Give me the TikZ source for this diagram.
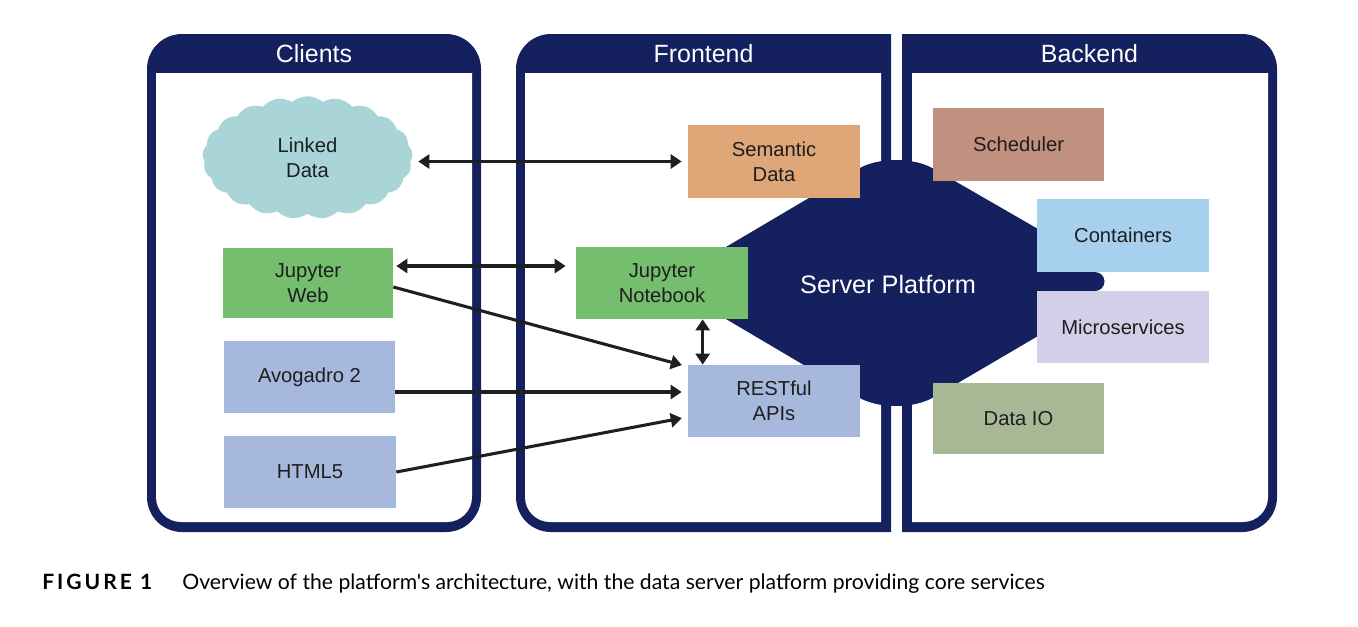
\documentclass[tikz,border=0pt]{standalone}
\usepackage{fontspec}
\setmainfont{Liberation Sans}
\newfontfamily\capfont{Lato}
\usetikzlibrary{arrows.meta,shapes.symbols,calc}
\definecolor{navy}{HTML}{15205E}
\definecolor{cSem}{HTML}{DFA677}
\definecolor{cSch}{HTML}{C1907E}
\definecolor{cCon}{HTML}{A7D0EE}
\definecolor{cMic}{HTML}{D2D0E8}
\definecolor{cDio}{HTML}{A8B894}
\definecolor{cJup}{HTML}{74BE6E}
\definecolor{cApi}{HTML}{A7B8DD}
\definecolor{cCld}{HTML}{A9D4D8}
\definecolor{txt}{HTML}{1E1E1E}
\begin{document}
\begin{tikzpicture}[x=0.02cm,y=-0.02cm,
  box/.style={draw=none,minimum width=3.44cm,minimum height=1.44cm,inner sep=0pt,
    font=\fontsize{11.5}{14.2}\selectfont,text=txt,align=center},
  hdr/.style={text=white,font=\fontsize{14.2}{16}\selectfont},
  arr/.style={line width=1.75pt,black!88,-{Triangle[length=0.22cm,width=0.28cm]}},
  darr/.style={line width=1.75pt,black!88,{Triangle[length=0.22cm,width=0.28cm]}-{Triangle[length=0.22cm,width=0.28cm]}}]
\useasboundingbox (0,0) rectangle (1358,626);
% panels
\fill[navy,rounded corners=0.7cm] (147,34) rectangle (481,532);
\fill[white,rounded corners=0.5cm] (156,73) [sharp corners]-- (472,73) [rounded corners=0.5cm]-- (472,522) -- (156,522) [sharp corners]-- cycle;
\fill[navy] (891,34) [rounded corners=0.7cm]-- (516,34) -- (516,532) [sharp corners]-- (891,532) -- cycle;
\fill[white] (881,73) -- (525,73) [rounded corners=0.5cm]-- (525,522) [sharp corners]-- (881,522) -- cycle;
\fill[navy] (902,34) [rounded corners=0.7cm]-- (1277,34) -- (1277,532) [sharp corners]-- (902,532) -- cycle;
\fill[white] (912,73) -- (1268,73) [rounded corners=0.5cm]-- (1268,522) [sharp corners]-- (912,522) -- cycle;
\node[hdr] (hc) at (314,54) {Clients};
\node[hdr] (hf) at (703.5,54) {Frontend};
\node[hdr] (hb) at (1089.5,54) {Backend};
% server platform
\fill[navy] (665,283) -- (858,169) .. controls (878,157) and (914,157) .. (934,169)
  -- (1038,229) -- (1038,272) -- (1095,272) arc[start angle=90,end angle=-90,radius=0.19cm]
  -- (1038,291) -- (1038,336) -- (934,397) .. controls (914,409) and (878,409) .. (858,397) -- cycle;
\node[text=white,font=\fontsize{14.4}{16}\selectfont] (sp) at (888,284) {Server Platform};
% boxes
\node[box,fill=cSem,minimum height=1.46cm] (sd) at (774,161.5) {Semantic\\Data};
\node[box,fill=cJup] (jn) at (662,283) {Jupyter\\Notebook};
\node[box,fill=cApi] (ra) at (774,401) {RESTful\\APIs};
\node[box,fill=cSch,minimum width=3.42cm,minimum height=1.46cm] (sch) at (1018.5,144.5) {Scheduler};
\node[box,fill=cCon,minimum height=1.46cm] (con) at (1123,235.5) {Containers};
\node[box,fill=cMic] (mic) at (1123,327) {Microservices};
\node[box,fill=cDio,minimum width=3.42cm,minimum height=1.42cm] (dio) at (1018.5,418.5) {Data IO};
\node[box,fill=cJup,minimum width=3.4cm,minimum height=1.4cm] (jw) at (308,283) {Jupyter\\Web};
\node[box,fill=cApi,minimum width=3.42cm] (av) at (309.5,377) {Avogadro 2};
\node[box,fill=cApi] (ht) at (310,472) {HTML5};
\node[cloud,cloud puffs=21,cloud puff arc=80,aspect=1.75,fill=cCld,draw=none,
  minimum width=4.2cm,minimum height=2.45cm,inner sep=0pt,
  font=\fontsize{11.5}{14.2}\selectfont,text=txt,align=center] (ld) at (307.5,157.5) {Linked\\Data};
% connectors
\draw[darr,shorten <=0.12cm,shorten >=0.12cm] (ld.east |- sd.west) -- (sd.west);
\draw[darr,shorten <=0.06cm,shorten >=0.2cm] ([yshift=0.34cm]jw.east) -- ([yshift=0.34cm]jn.west);
\draw[arr,shorten >=0.12cm] ([yshift=-0.08cm]jw.east) -- ([yshift=-0.04cm]ra.north west);
\draw[arr,shorten >=0.12cm] ([yshift=-0.3cm]av.east) -- ([yshift=-0.3cm]av.east -| ra.west);
\draw[arr,shorten >=0.12cm] (ht.east) -- ([yshift=-0.32cm]ra.west);
\draw[darr] ([xshift=0.3cm]ra.north west |- jn.south) -- ([xshift=0.3cm]ra.north west);
% caption
\node[anchor=base west,inner sep=0pt,font=\capfont\bfseries\fontsize{12}{14}\selectfont\addfontfeatures{LetterSpace=14}] (fig) at (42,589) {FIGURE 1};
\node[anchor=base west,inner sep=0pt,font=\capfont\fontsize{12.05}{14}\selectfont] (cap) at (182,589) {Overview of the platform's architecture, with the data server platform providing core services};
\end{tikzpicture}
\end{document}
